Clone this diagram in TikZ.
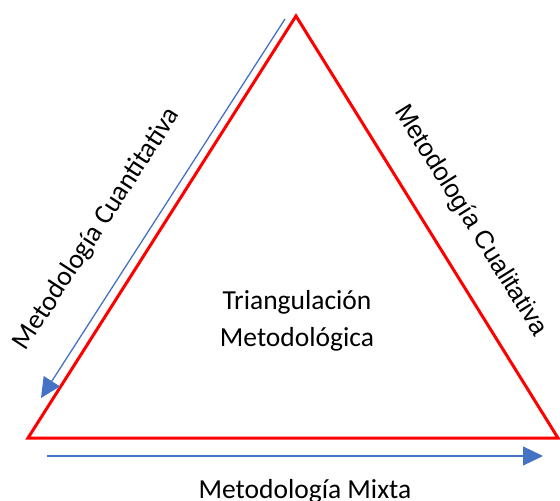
\documentclass[tikz,border=0pt]{standalone}
\usepackage{fontspec}
\setmainfont{Carlito}
\newfontfamily\arialfont{Liberation Sans}
\usepackage{tikz}
\usepackage{xcolor}
\usetikzlibrary{positioning,arrows.meta}
\definecolor{flowblue}{RGB}{68,114,196}

\begin{document}
\begin{tikzpicture}[x=1pt,y=-1pt,
  side/.style={draw=red,line width=3pt,line join=miter},
  flow/.style={draw=flowblue,line width=1.3pt,-{Triangle[length=20pt,width=19pt]}},
  lbl/.style={inner sep=0pt,font=\fontsize{27.5}{37}\selectfont}]
\useasboundingbox (0,0) rectangle (560,501);
\coordinate (apex) at (296,16);
\coordinate (left) at (28,438);
\coordinate (right) at (558,438);
\coordinate (cuanStart) at (285,19);
\coordinate (cuanEnd) at (41,398);
\coordinate (mixStart) at (47,456);
\coordinate (mixEnd) at (543,456);
\draw [side] (apex) -- (left) -- (right) -- cycle;
\draw [flow] (cuanStart) -- (cuanEnd);
\draw [flow] (mixStart) -- (mixEnd);
\node [lbl,rotate=57] (cuan) at (97,229) {Metodología Cuantitativa};
\node [lbl,rotate=-58,font=\arialfont\fontsize{25.5}{31}\selectfont] (cual) at (470.5,221) {Metodología Cualitativa};
\node [lbl,align=center] (tri) at (297,321) {Triangulación\\Metodológica};
\node [lbl,anchor=base] (mix) at (305,498) {Metodología Mixta};
\end{tikzpicture}
\end{document}
